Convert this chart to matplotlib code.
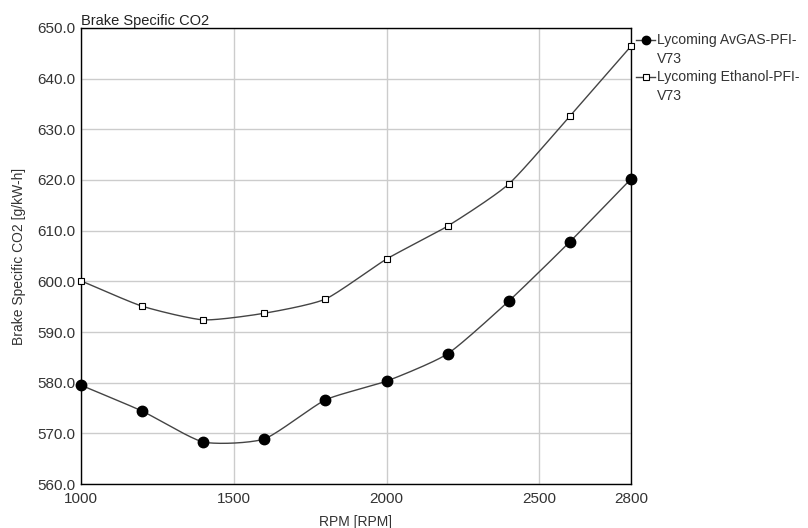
import numpy as np
import matplotlib
matplotlib.use("Agg")
import matplotlib.pyplot as plt
from matplotlib.lines import Line2D

plt.rcParams['font.family'] = ['Liberation Sans', 'DejaVu Sans']

rpm = [1000, 1200, 1400, 1600, 1800, 2000, 2200, 2400, 2600, 2800]
avgas = [579.5, 574.4, 568.3, 568.9, 576.6, 580.3, 585.7, 596.1, 607.8, 620.2]
ethanol = [600.1, 595.1, 592.4, 593.7, 596.5, 604.4, 610.9, 619.2, 632.6, 646.4]
xticks = [1000, 1500, 2000, 2500, 2800]
yticks = [560, 570, 580, 590, 600, 610, 620, 630, 640, 650]
series_names = ["Lycoming AvGAS-PFI-\nV73", "Lycoming Ethanol-PFI-\nV73"]

W, H = 808, 528


def smooth(x, y, n=30, k=0.6):
    # cardinal (Hermite) curve through the points, for drawing only
    x = np.asarray(x, float); y = np.asarray(y, float)
    px = np.concatenate([[2 * x[0] - x[1]], x, [2 * x[-1] - x[-2]]])
    py = np.concatenate([[2 * y[0] - y[1]], y, [2 * y[-1] - y[-2]]])
    t = np.linspace(0, 1, n)
    h00 = 2 * t**3 - 3 * t**2 + 1
    h10 = t**3 - 2 * t**2 + t
    h01 = -2 * t**3 + 3 * t**2
    h11 = t**3 - t**2
    xs, ys = [], []
    for i in range(1, len(px) - 2):
        for p, out in ((px, xs), (py, ys)):
            m1 = k * (p[i + 1] - p[i - 1]) / 2
            m2 = k * (p[i + 2] - p[i]) / 2
            out.extend(h00 * p[i] + h10 * m1 + h01 * p[i + 1] + h11 * m2)
    return np.array(xs), np.array(ys)


fig = plt.figure(figsize=(8.08, 5.28), dpi=100)
ax = fig.add_axes([0.1002, 0.0833, 0.6807, 0.8637])

lc = '#444444'
sx, sy = smooth(rpm, avgas)
ax.plot(sx, sy, color=lc, lw=1.0, zorder=3)
ax.plot(rpm, avgas, 'o', color='black', ms=7.5, zorder=4, clip_on=False)
sx, sy = smooth(rpm, ethanol)
ax.plot(sx, sy, color=lc, lw=1.0, zorder=3)
ax.plot(rpm, ethanol, 's', mfc='white', mec='black', mew=0.8, ms=4, zorder=4, clip_on=False)

ax.set_xlim(1000, 2800)
ax.set_ylim(560, 650)
ax.set_xticks(xticks)
ax.set_yticks(yticks)
ax.set_yticklabels([f"{v:.1f}" for v in yticks])
ax.tick_params(axis='y', length=0, labelsize=11, colors='#333333', pad=4)
ax.tick_params(axis='x', length=0, labelsize=11, colors='#333333', pad=6)
ax.grid(True, color='#cccccc', lw=1.0)
ax.set_axisbelow(True)
for s in ax.spines.values():
    s.set_color('black')
    s.set_linewidth(1.0)

ax.set_xlabel("RPM [RPM]", fontsize=10, color='#333333', labelpad=6)
ax.set_ylabel("Brake Specific CO2 [g/kW-h]", fontsize=10, color='#333333', labelpad=8)
ax.text(0.0, 1.0, "Brake Specific CO2", transform=ax.transAxes, fontsize=10.5,
        color='#222222', ha='left', va='bottom')

# legend drawn by hand: marker aligned with the first text line
styles = [dict(marker='o', ms=6, mfc='black', mec='black'),
          dict(marker='s', ms=4, mfc='white', mec='black', mew=0.8)]
entry_y = [40, 77]
for name, st, yp in zip(series_names, styles, entry_y):
    yf = 1 - yp / H
    fig.add_artist(Line2D([636 / W, 655 / W], [yf, yf], color=lc, lw=1.0,
                          transform=fig.transFigure))
    fig.add_artist(Line2D([646 / W], [yf], linestyle='none', transform=fig.transFigure, **st))
    for j, line in enumerate(name.split('\n')):
        fig.text(657 / W, 1 - (yp + 19 * j) / H, line, fontsize=10.1, color='#333333',
                 ha='left', va='center')

fig.savefig("out.png", dpi=100)
